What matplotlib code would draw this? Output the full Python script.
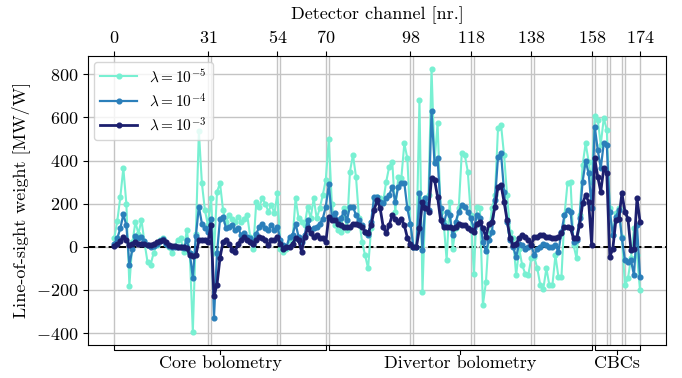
import matplotlib
matplotlib.use("Agg")
import matplotlib.pyplot as plt
import numpy as np

plt.rcParams["font.family"] = "serif"
plt.rcParams["font.serif"] = ["cmr10", "DejaVu Serif"]
plt.rcParams["mathtext.fontset"] = "cm"
plt.rcParams["axes.formatter.use_mathtext"] = True
plt.rcParams["font.size"] = 13

# %% data
channels = np.arange(175)

w_lam5 = [
    40, 120, 230, 365, 200, -180, 20, 115, 60, 125,          # 0-9
    20, -70, -85, -30, 10, 30, 40, 15, 0, -30,               # 10-19
    5, 30, 40, -25, 80, -30, -395, 60, 535, 295,             # 20-29
    170, 100, 225, -30, 255, 295, 170, 115, 147, 130,        # 30-39
    115, 140, 115, 130, 147, 45, -8, 209, 186, 225,          # 40-49
    200, 163, 194, 155, 248, -8, -23, -8, 31, 31,            # 50-59
    225, 132, 116, 100, 186, 132, 225, 132, 178, 240,        # 60-69
    310, 500, 200, 100, 78, 70, 178, 78, 349, 426,           # 70-79
    325, 132, 23, -39, -100, 85, 225, 232, 225, 210,         # 80-89
    302, 372, 395, 163, 325, 318, 480, 410, 108, 0,          # 90-99
    0, 682, -209, 225, 240, 826, 395, 573, 163, 116,         # 100-109
    -62, 209, -8, 85, 178, 434, 426, 349, 147, -124,         # 110-119
    186, 178, -270, -165, 60, 178, 240, 550, 566, 426,       # 120-129
    240, 70, 39, -132, -10, -85, -124, -132, -54, -47,       # 130-139
    -100, -178, -194, -100, -178, -178, -40, -140, -140, 147,  # 140-149
    295, 302, 8, -54, 147, 380, 480, 395, 300, 605,          # 150-159
    589, 473, 597, 543, 178, 54, 155, 178, 47, -178,         # 160-169
    -147, -54, 85, -39, -202,                                # 170-174
]

w_lam4 = [
    15, 40, 85, 150, 100, -85, -10, 50, 40, 45,
    25, 8, 0, 5, 12, 28, 35, 15, 5, -2,
    -2, 0, -2, -5, 30, -30, -144, 50, 186, 108,
    85, 70, 131, -330, -30, 130, 140, 85, 93, 100,
    78, 85, 54, 62, 46, 40, 15, 60, 93, 108,
    85, 78, 100, 78, 93, 31, 8, 0, 46, 54,
    108, 46, 23, 54, 124, 78, 85, 93, 108, 130,
    186, 290, 140, 155, 124, 132, 163, 124, 186, 186,
    147, 124, 100, 70, 54, 116, 232, 232, 209, 201,
    225, 240, 279, 209, 279, 295, 295, 178, 108, 0,
    0, 248, -15, 225, 170, 628, 388, 410, 178, 100,
    163, 147, 54, 116, 163, 194, 186, 163, 132, 85,
    147, 132, 23, -20, 30, 70, 217, 418, 434, 256,
    116, 31, 0, -47, 15, 8, -8, 0, 8, -39,
    -8, 0, 15, 8, 0, 0, 8, -23, 70, 147,
    170, 163, 23, 31, 132, 302, 398, 341, 180, 558,
    450, 364, 480, 473, 163, 54, 140, 170, 40, -62,
    -70, -62, -132, 100, -140,
]

w_lam3 = [
    5, 12, 28, 45, 30, 8, 12, 20, 15, 15,
    12, 8, 8, 12, 20, 25, 30, 20, 8, 5,
    2, 0, 0, 0, -5, -40, -45, -40, 30, 30,
    30, 23, 100, -228, -175, -50, 23, 31, 15, -15,
    -23, 15, 31, 46, 31, 23, 15, 31, 46, 39,
    31, 8, 31, 31, 46, 15, -8, 0, 0, 15,
    39, 31, -23, 46, 85, 62, 46, 54, 39, 40,
    20, 140, 125, 124, 108, 100, 93, 93, 93, 108,
    108, 100, 93, 70, 62, 100, 170, 217, 178, 93,
    62, 100, 147, 131, 116, 131, 100, 42, 15, 0,
    0, 85, 209, 178, 163, 318, 310, 232, 124, 93,
    93, 93, 85, 93, 108, 100, 100, 85, 78, 70,
    108, 116, 85, 45, 108, 116, 186, 279, 287, 209,
    124, 39, 8, 15, 39, 54, 46, 31, 8, 46,
    46, 54, 54, 46, 46, 39, 39, 46, 62, 93,
    93, 85, 39, 39, 100, 201, 240, 209, 8, 411,
    325, 256, 364, 341, -47, -8, 124, 131, 248, 163,
    131, -15, -8, 225, 116,
]

labels = [r"$\lambda = 10^{-5}$", r"$\lambda = 10^{-4}$", r"$\lambda = 10^{-3}$"]
colors = ["#78f0d2", "#2b7fba", "#1c1f6e"]

tick_channels = [0, 31, 54, 70, 98, 118, 138, 158, 174]
extra_lines = [32, 55, 71, 99, 119, 139, 159, 163, 164, 168, 169]
groups = [(0, 70, "Core bolometry"), (71, 158, "Divertor bolometry"), (159, 174, "CBCs")]

# %% plot
fig = plt.figure(figsize=(6.82, 3.78), dpi=100)
ax = fig.add_axes([0.129, 0.087, 0.848, 0.766])

for x in extra_lines:
    ax.axvline(x, color="#c4c4c4", lw=1.0, zorder=0)

ax.axhline(0, color="k", ls="--", lw=1.4, zorder=1)

for w, lab, c, lw in zip([w_lam5, w_lam4, w_lam3], labels, colors, [1.5, 1.6, 2.0]):
    ax.plot(channels, w, "-o", color=c, lw=lw, ms=3.4, label=lab, zorder=2)

ax.xaxis.tick_top()
ax.xaxis.set_label_position("top")
ax.set_xticks(tick_channels)
ax.set_xlabel("Detector channel [nr.]", labelpad=7)
ax.set_ylabel("Line-of-sight weight [MW/W]", labelpad=4)
ax.set_yticks([-400, -200, 0, 200, 400, 600, 800])
ax.tick_params(labelsize=13)
ax.grid(True, color="#c4c4c4", lw=1.0, zorder=0)
ax.set_axisbelow(True)

leg = ax.legend(loc="upper left", fontsize=11, handlelength=2.4, framealpha=0.8,
                borderaxespad=0.4, labelspacing=0.45)

# brackets under the axis
tr = ax.get_xaxis_transform()
for x0, x1, name in groups:
    ax.plot([x0, x0, x1, x1], [0, -0.016, -0.016, 0], color="k", lw=0.8,
            transform=tr, clip_on=False)
    xm = (x0 + x1) / 2
    ax.plot([xm, xm], [-0.016, -0.03], color="k", lw=0.8, transform=tr, clip_on=False)
    ax.text(xm, -0.036, name, ha="center", va="top", transform=tr, fontsize=13)

fig.savefig("out.png", dpi=100)
